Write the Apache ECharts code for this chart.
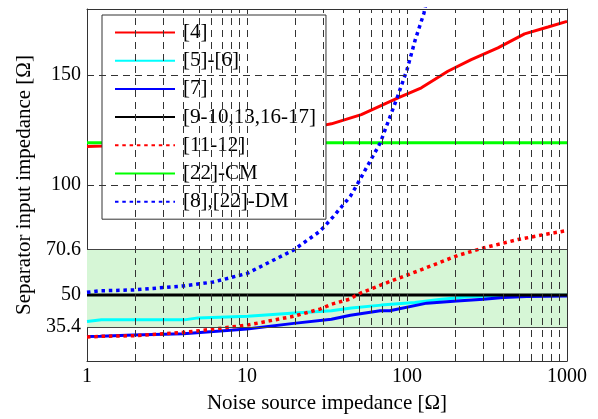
<!DOCTYPE html>
<html><head><meta charset="utf-8">
<script src="https://cdn.jsdelivr.net/npm/echarts@6/dist/echarts.min.js"></script>
<style>html,body{margin:0;padding:0;background:#fff}#c{width:598px;height:419px}</style>
</head><body><div id="c"></div><script>
// ---- data ----
const names = ['[4]', '[5]-[6]', '[7]', '[9-10,13,16-17]', '[11-12]', '[22]-CM', '[8],[22]-DM'];

const x4 = [1, 1.25, 2, 5, 10, 20, 30, 33.7, 51.8, 87.9, 123, 180, 252, 370, 543, 761, 1000];
const y4 = [117.5, 117.7, 118.5, 120.5, 122.5, 125, 127.1, 127.8, 132.0, 139.6, 144.2, 151.7, 157.0, 162.3, 168.7, 171.8, 174.4];

const x56 = [1, 1.23, 4.06, 4.94, 10.1, 19.8, 33.7, 44.9, 69, 112, 164, 252, 370, 600, 1000];
const y56 = [38.0, 38.7, 38.7, 39.6, 40.3, 41.8, 42.8, 44.1, 45.4, 46.6, 48.1, 49.3, 49.6, 49.8, 49.9];

const x7 = [1, 1.21, 1.95, 4.0, 5.9, 10, 19.6, 33.7, 44.3, 68, 78, 133, 205, 300, 400, 560, 1000];
const y7 = [31.1, 31.2, 31.8, 32.4, 33.3, 34.5, 37.1, 39.0, 40.8, 42.8, 42.8, 46.3, 47.3, 48.1, 48.9, 49.3, 49.6];

const xRef = [1, 1000];
const yRef = [50, 50];

const x1112 = [1, 1.21, 1.95, 4.0, 6.2, 10, 19.5, 28.6, 33.7, 43.8, 49.4, 79.8, 117, 208, 305, 494, 724, 1000];
const y1112 = [30.9, 31.2, 31.5, 33.0, 34.5, 36.3, 40.3, 43.6, 45.8, 48.1, 50.4, 56.4, 60.9, 68.0, 71.5, 75.2, 77.5, 79.3];

const xCM = [1, 1000];
const yCM = [119.2, 119.2];

const xDM = [1, 1.21, 1.95, 4.0, 6.15, 10, 19.5, 28.6, 34.8, 44.3, 48.8, 68, 86.6, 100, 112.6, 127.6, 135];
const yDM = [51.2, 51.9, 52.3, 54.1, 55.9, 59.8, 70.4, 79.0, 85.8, 94.9, 100.2, 119.1, 139.5, 152.4, 166.0, 178.1, 186];

const yTicks = [35.4, 50, 70.6, 100, 150];
const xGrid = [2,3,4,5,6,7,8,9,10,20,30,40,50,60,70,80,90,100,200,300,400,500,600,700,800,900];
const yGridDashed = [100, 150];
const bandLimits = [35.4, 70.6];

// ---- chart ----
const FONT = '"Liberation Serif","Times New Roman",serif';
function zip(xs, ys) { return xs.map((x, i) => [x, ys[i]]); }
function lineSeries(name, xs, ys, color, dotted, z) {
  return {
    name: name, type: 'line', data: zip(xs, ys), symbol: 'none', showSymbol: false,
    z: z, clip: true,
    lineStyle: dotted ? { color: color, width: 3.5, type: [3.5, 3.8], cap: 'butt' } : { color: color, width: 3 },
    itemStyle: { color: color }
  };
}
const axisLineStyle = { color: '#333', width: 1 };
const chart = echarts.init(document.getElementById('c'), null, { renderer: 'canvas' });
chart.setOption({
  animation: false,
  backgroundColor: '#fff',
  grid: { left: 87, right: 31, top: 9, bottom: 57 },
  legend: {
    data: names, orient: 'vertical', left: 102, top: 15,
    backgroundColor: '#fff', borderColor: '#333', borderWidth: 1,
    padding: [7, 10, 7, 12], itemWidth: 60, itemHeight: 20, itemGap: 7.2,
    itemStyle: { opacity: 0 },
    textStyle: { fontFamily: FONT, fontSize: 21, color: '#000', lineHeight: 20, padding: [0, 0, 0, 3] }
  },
  xAxis: [
    {
      type: 'log', logBase: 10, min: 1, max: 1000, position: 'bottom',
      name: 'Noise source impedance [Ω]', nameLocation: 'middle', nameGap: 32,
      nameTextStyle: { fontFamily: FONT, fontSize: 21, color: '#000' },
      axisLine: { show: true, lineStyle: axisLineStyle },
      axisTick: { show: true, inside: true, length: 5, lineStyle: axisLineStyle },
      axisLabel: { fontFamily: FONT, fontSize: 20, color: '#000', margin: 6, formatter: v => String(v) },
      splitLine: { show: false }
    },
    {
      type: 'log', logBase: 10, min: 1, max: 1000, position: 'top',
      axisLine: { show: true, lineStyle: axisLineStyle },
      axisTick: { show: true, inside: true, length: 5, lineStyle: axisLineStyle },
      axisLabel: { show: false }, splitLine: { show: false }
    }
  ],
  yAxis: [
    {
      type: 'value', min: 20, max: 180, position: 'left',
      name: 'Separator input impedance [Ω]', nameLocation: 'middle', nameGap: 52, nameRotate: 90,
      nameTextStyle: { fontFamily: FONT, fontSize: 21, color: '#000' },
      axisLine: { show: true, lineStyle: axisLineStyle },
      axisTick: { show: true, inside: true, length: 5, lineStyle: axisLineStyle, customValues: yTicks },
      axisLabel: { fontFamily: FONT, fontSize: 20, color: '#000', margin: 6, customValues: yTicks, formatter: v => String(v) },
      splitLine: { show: false }
    },
    {
      type: 'value', min: 20, max: 180, position: 'right',
      axisLine: { show: true, lineStyle: axisLineStyle },
      axisTick: { show: true, inside: true, length: 5, lineStyle: axisLineStyle, customValues: yTicks },
      axisLabel: { show: false }, splitLine: { show: false }
    }
  ],
  series: [
    {
      name: 'band', type: 'line', data: [], z: 1, silent: true,
      markArea: { silent: true, itemStyle: { color: '#d6f6d6' }, data: [[{ yAxis: bandLimits[0] }, { yAxis: bandLimits[1] }]] }
    },
    {
      name: 'grid', type: 'line', data: [], z: 1, silent: true,
      markLine: {
        silent: true, symbol: ['none', 'none'], animation: false,
        label: { show: false },
        data: xGrid.map(v => ({ xAxis: v, lineStyle: { color: '#333', width: 1, type: [7, 5] } }))
          .concat(yGridDashed.map(v => ({ yAxis: v, lineStyle: { color: '#333', width: 1, type: [7, 5] } })))
          .concat(bandLimits.map(v => ({ yAxis: v, lineStyle: { color: '#444', width: 1, type: 'solid' } })))
      }
    },
    lineSeries(names[0], x4, y4, '#ff0000', false, 3),
    lineSeries(names[1], x56, y56, '#00ffff', false, 3),
    lineSeries(names[2], x7, y7, '#0000ff', false, 3),
    lineSeries(names[3], xRef, yRef, '#000000', false, 3),
    lineSeries(names[4], x1112, y1112, '#ff0000', true, 3),
    lineSeries(names[5], xCM, yCM, '#00ff00', false, 3),
    lineSeries(names[6], xDM, yDM, '#0000ff', true, 3)
  ]
});
</script></body></html>
